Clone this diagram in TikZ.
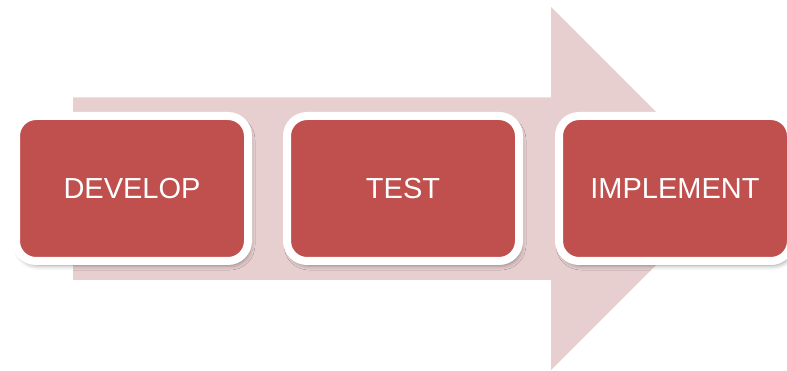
\documentclass[tikz,border=0pt]{standalone}
\usepackage{fontspec}
\setmainfont{Liberation Sans}
\usetikzlibrary{shadows.blur}
\definecolor{boxred}{HTML}{C0504D}
\definecolor{arrowpink}{HTML}{E7CFD0}
\tikzset{
  stepbox/.style={draw=white, line width=8pt, fill=boxred, rounded corners=20pt,
    minimum width=232pt, minimum height=145pt, inner sep=0pt,
    text=white, font=\fontsize{29}{33}\selectfont,
    blur shadow={shadow xshift=2pt, shadow yshift=-4pt, shadow blur radius=5pt, shadow opacity=45}},
  bigarrow/.style={fill=arrowpink, draw=none}
}
\begin{document}
\begin{tikzpicture}[x=1pt,y=-1pt]
\useasboundingbox (0,0) rectangle (787,371);
\clip (0,0) rectangle (787,371);
\fill[bigarrow] (73,97.5) -- (551,97.5) -- (551,7) -- (732.5,188.5) -- (551,370) -- (551,280) -- (73,280) -- cycle;
\node[stepbox] (develop) at (132,188.5) {DEVELOP};
\node[stepbox] (test) at (403,188.5) {TEST};
\node[stepbox] (implement) at (675,188.5) {IMPLEMENT};
\end{tikzpicture}
\end{document}
